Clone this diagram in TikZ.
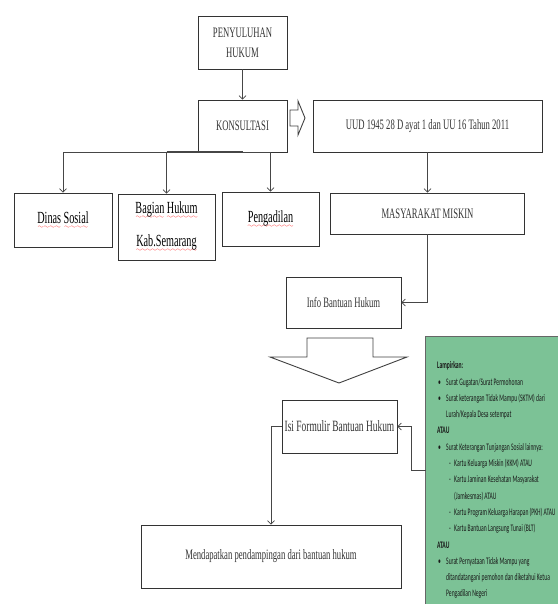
\documentclass[tikz,border=0pt]{standalone}
\usepackage{fontspec}
\usetikzlibrary{arrows.meta}
\newfontfamily\boxfont[FakeStretch=0.6]{Liberation Serif}
\newfontfamily\lampfont[FakeStretch=0.56]{Carlito}
\font\wavefont=lasy6\relax
\definecolor{lampgreen}{RGB}{124,194,150}
\definecolor{lineclr}{RGB}{70,70,70}
\newcommand\spell[1]{\setbox0\hbox{#1}%
  \rlap{\hbox to \wd0{\color{red}\xleaders\hbox{\lower5pt\hbox{\wavefont\char58}}\hfill}}\box0\relax}
\newcommand\bul[1]{\hspace*{1pt}\makebox[8pt][l]{•}#1}
\newcommand\dsh[1]{\hspace*{12pt}\makebox[5pt][l]{-}#1}
\tikzstyle{box}=[draw=black!80,line width=0.9,fill=white,inner sep=0,text=black!80,align=center,
                 font=\boxfont\fontsize{14.4}{20}\selectfont]
\tikzstyle{unit}=[box,text=black,font=\boxfont\fontsize{17}{33}\selectfont]
\tikzstyle{wire}=[draw=lineclr,line width=0.7]
\tikzstyle{conn}=[wire,-{Straight Barb[length=3.5,width=7]}]
\tikzstyle{hollow}=[draw=black!75,line width=0.9,fill=white,line join=miter]
\tikzstyle{lamp}=[fill=lampgreen,draw=none,inner sep=0]
\tikzstyle{lamptext}=[inner sep=0,align=left,text=black!90,font=\lampfont\fontsize{10}{16.3}\selectfont]

\begin{document}
\begin{tikzpicture}[x=1pt,y=-1pt]
  \useasboundingbox (0,0) rectangle (558,604);

  % TOP
  \node (penyuluhan) [box,minimum width=89,minimum height=53] at (242.5,42.5) {PENYULUHAN\\HUKUM};
  \node (konsultasi) [box,minimum width=89,minimum height=52] at (242.5,126) {KONSULTASI};
  \node (uud) [box,minimum width=229,minimum height=52] at (427.5,126) {UUD 1945 28 D ayat 1 dan UU 16 Tahun 2011};
  \draw[hollow] (290,110) -- (298,110) -- (298,101) -- (305,118) -- (298,135) -- (298,126) -- (290,126) -- cycle;

  % UNITS
  \node (dinas) [unit,minimum width=98,minimum height=54] at (63,220) {\spell{Dinas} \spell{Sosial}};
  \node (bagian) [unit,minimum width=97,minimum height=66] at (166.5,227) {\spell{Bagian} \spell{Hukum}\\\spell{Kab.Semarang}};
  \node (pengadilan) [unit,minimum width=97,minimum height=54] at (270.5,219) {\spell{Pengadilan}};

  % FLOW
  \node (masyarakat) [box,minimum width=194,minimum height=41] at (427.5,213.5) {MASYARAKAT MISKIN};
  \node (info) [box,minimum width=115,minimum height=51] at (343.5,302.5) {Info Bantuan Hukum};
  \draw[hollow] (307,338) -- (373,338) -- (373,357) -- (407,357) -- (339,383) -- (270,357) -- (307,357) -- cycle;
  \node (isi) [box,minimum width=115,minimum height=53,font=\boxfont\fontsize{15.7}{20}\selectfont] at (339.5,426.5) {Isi Formulir Bantuan Hukum};
  \node (mendapatkan) [box,minimum width=260,minimum height=63] at (271,556.5) {Mendapatkan pendampingan dari bantuan hukum};

  % LAMPIRAN
  \node (lampiran) [lamp,minimum width=132,minimum height=267] at (492,470.5) {};
  \draw[draw=black!60,line width=0.9] (lampiran.south west) -- (lampiran.north west) -- (lampiran.north east);
  \node (lampirantxt) [lamptext,anchor=north west] at (437,361.5) {%
    \textbf{Lampirkan:}\\
    \bul{Surat Gugatan/Surat Permohonan}\\
    \bul{Surat keterangan Tidak Mampu (SKTM) dari}\\
    \hspace*{9pt}Lurah/Kepala Desa setempat\\
    \textbf{ATAU}\\
    \bul{Surat Keterangan Tunjangan Sosial lainnya:}\\
    \dsh{Kartu Keluarga Miskin (KKM) ATAU}\\
    \dsh{Kartu Jaminan Kesehatan Masyarakat}\\
    \hspace*{17pt}(Jamkesmas) ATAU\\
    \dsh{Kartu Program Keluarga Harapan (PKH) ATAU}\\
    \dsh{Kartu Bantuan Langsung Tunai (BLT)}\\
    \textbf{ATAU}\\
    \bul{Surat Pernyataan Tidak Mampu yang}\\
    \hspace*{9pt}ditandatangani pemohon dan diketahui Ketua\\
    \hspace*{9pt}Pengadilan Negeri};

  % CONNECTORS
  \draw[conn] (penyuluhan) -- (konsultasi);
  \draw[wire] (dinas.north |- konsultasi.south) -- (pengadilan.north |- konsultasi.south);
  \draw[wire,line width=2] (bagian.north |- konsultasi.south) -- (konsultasi.south);
  \draw[conn] (dinas.north |- konsultasi.south) -- (dinas.north);
  \draw[conn] (bagian.north |- konsultasi.south) -- (bagian.north);
  \draw[conn] (pengadilan.north |- konsultasi.south) -- (pengadilan.north);
  \draw[conn] (uud) -- (masyarakat);
  \draw[conn] (masyarakat.south) |- (info.east);
  \draw[conn] (lampiran.west) -- ++(-14,0) |- (isi.east);
  \draw[conn] (isi.west) -| (mendapatkan.north);

\end{tikzpicture}
\end{document}
